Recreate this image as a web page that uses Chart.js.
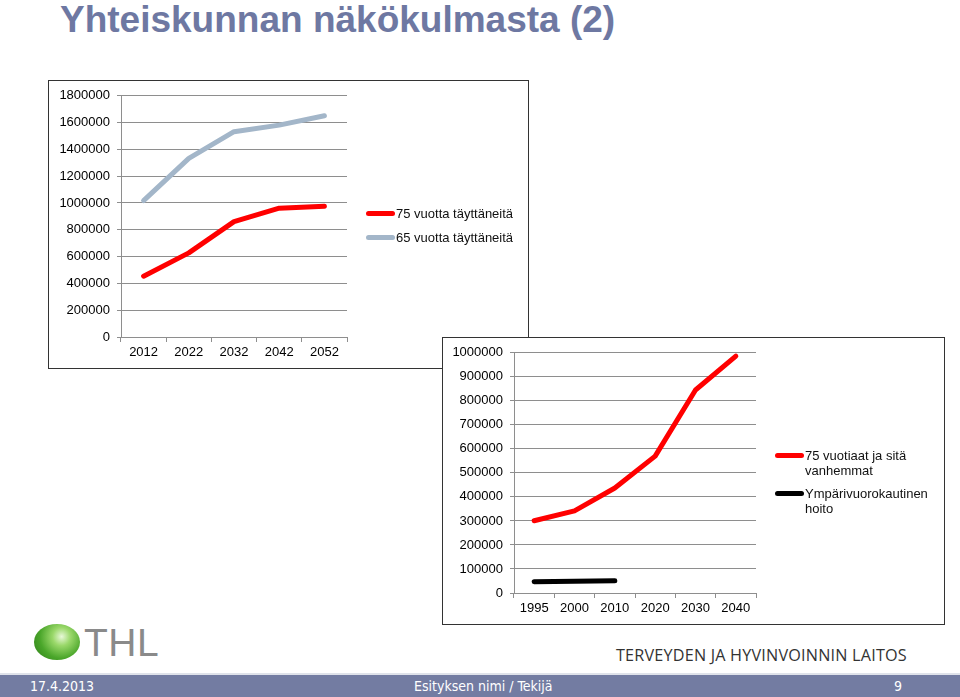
<!DOCTYPE html>
<html>
<head>
<meta charset="utf-8">
<script src="https://cdn.jsdelivr.net/npm/chart.js@4"></script>
<style>
  body { margin:0; width:960px; height:697px; background:#fff; position:relative; overflow:hidden; font-family:"Liberation Sans", Arial, sans-serif; }
  #title { position:absolute; left:60px; top:-1px; font-size:37px; font-weight:bold; color:#6e78a2; white-space:nowrap; }
  .box { position:absolute; border:1px solid #333; background:#fff; }
  #box1 { left:48px; top:80px; width:479px; height:287px; }
  #box2 { left:442px; top:337px; width:501px; height:286px; }
  .box canvas { position:absolute; left:0; top:0; }
  .leg { position:absolute; font-size:13px; color:#111; line-height:15px; }
  .leg span.l { position:absolute; left:0; width:29px; height:5px; border-radius:3px; }
  .leg div.t { position:absolute; left:30px; top:0; white-space:nowrap; }
  #footer { position:absolute; left:0; top:673px; width:960px; height:24px; background:#737ca2; border-top:2px solid #dfe2ea; box-sizing:border-box; color:#fff; font-family:"Liberation Sans Narrow", "DejaVu Sans Condensed", sans-serif; font-size:14px; }
  #footer div { position:absolute; top:3px; }
  #laitos { position:absolute; left:616px; top:644px; font-family:"Open Sans", sans-serif; font-size:16.2px; color:#333; letter-spacing:0.2px; white-space:nowrap; }
  #logo { position:absolute; left:34px; top:624px; width:46px; height:36px; border-radius:50%; background:radial-gradient(circle at 60% 35%, #e8f8d8 0%, #9ad86a 25%, #4aa62a 60%, #2c7a18 100%); }
  #thl { position:absolute; left:84px; top:621px; font-size:39px; color:#8a8a8a; letter-spacing:0.5px; }
</style>
</head>
<body>
<div id="title">Yhteiskunnan näkökulmasta (2)</div>

<div class="box" id="box1">
  <canvas id="c1" width="479" height="287"></canvas>
  <div class="leg" style="left:317px;top:125px;">
    <span class="l" style="top:5px;background:#ff0000"></span><div class="t">75 vuotta täyttäneitä</div>
  </div>
  <div class="leg" style="left:317px;top:149px;">
    <span class="l" style="top:5px;background:#a3b6c9"></span><div class="t">65 vuotta täyttäneitä</div>
  </div>
</div>

<div class="box" id="box2">
  <canvas id="c2" width="501" height="286"></canvas>
  <div class="leg" style="left:332px;top:110px;">
    <span class="l" style="top:5px;background:#ff0000"></span><div class="t">75 vuotiaat ja sitä<br>vanhemmat</div>
  </div>
  <div class="leg" style="left:332px;top:148px;">
    <span class="l" style="top:5px;background:#000"></span><div class="t">Ympärivuorokautinen<br>hoito</div>
  </div>
</div>

<div id="logo"></div>
<div id="thl">THL</div>
<div id="laitos">TERVEYDEN JA HYVINVOINNIN LAITOS</div>
<div id="footer">
  <div style="left:30px">17.4.2013</div>
  <div style="left:414px">Esityksen nimi / Tekijä</div>
  <div style="left:894px">9</div>
</div>

<script>
// kaavio 1
const vuodet1 = ["2012", "2022", "2032", "2042", "2052"];
const yli75 = [454000, 628000, 861000, 961000, 976000];
const yli65 = [1018000, 1333000, 1532000, 1581000, 1651000];

// kaavio 2
const vuodet2 = ["1995", "2000", "2010", "2020", "2030", "2040"];
const vanhemmat75 = [301000, 342000, 437000, 570000, 845000, 986000];
const hoito = [47000, 49000, 51000, null, null, null];

const gridCol = '#8e8e8e';
const tickFont = { family: 'Liberation Sans', size: 13 };

function asetukset(ymax, step, yw, pad) {
  return {
    responsive: false,
    animation: false,
    layout: { padding: pad },
    plugins: { legend: { display: false }, tooltip: { enabled: false } },
    elements: { point: { radius: 0 }, line: { tension: 0, borderCapStyle: 'round', borderJoinStyle: 'round' } },
    scales: {
      x: {
        offset: true,
        grid: { offset: true, drawOnChartArea: false, drawTicks: true, tickLength: 5, color: gridCol },
        border: { color: gridCol },
        ticks: { color: '#000', font: tickFont, padding: 3, maxRotation: 0 },
        afterFit: s => { s.height = 29; }
      },
      y: {
        min: 0, max: ymax,
        grid: { color: gridCol, tickLength: 4 },
        border: { color: gridCol },
        ticks: { stepSize: step, color: '#000', font: tickFont, padding: 7, callback: v => String(v) },
        afterFit: s => { s.width = yw; }
      }
    }
  };
}

new Chart(document.getElementById('c1'), {
  type: 'line',
  data: {
    labels: vuodet1,
    datasets: [
      { label: '75 vuotta täyttäneitä', data: yli75, borderColor: '#ff0000', borderWidth: 5 },
      { label: '65 vuotta täyttäneitä', data: yli65, borderColor: '#a3b6c9', borderWidth: 5 }
    ]
  },
  options: asetukset(1800000, 200000, 72, { top: 14, right: 181, bottom: 2, left: 0 })
});

new Chart(document.getElementById('c2'), {
  type: 'line',
  data: {
    labels: vuodet2,
    datasets: [
      { label: '75 vuotiaat ja sitä vanhemmat', data: vanhemmat75, borderColor: '#ff0000', borderWidth: 5 },
      { label: 'Ympärivuorokautinen hoito', data: hoito, borderColor: '#000', borderWidth: 5 }
    ]
  },
  options: asetukset(1000000, 100000, 71, { top: 14, right: 188, bottom: 2, left: 0 })
});
</script>
</body>
</html>
